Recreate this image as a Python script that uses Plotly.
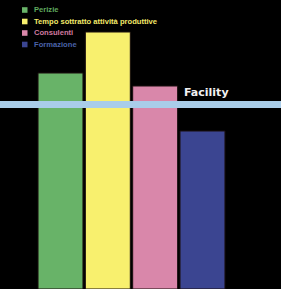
import plotly.graph_objects as go

categories = ["Perizie", "Tempo sottratto attività produttive", "Consulenti", "Formazione"]
values = [216, 257, 203, 158]
colors = ["#68b368", "#f8f06e", "#d987aa", "#3b4591"]
text_colors = ["#5fa95f", "#f3ea6a", "#d07aa0", "#4a62a8"]
facility_level = 184.5
facility_label = "Facility"

W, H = 281, 289
fig = go.Figure()
xs = list(range(len(categories)))
fig.add_trace(go.Bar(
    x=xs, y=values, width=0.95,
    marker=dict(color=colors, line=dict(color="#1a0f0f", width=1)),
    showlegend=False, hoverinfo="skip",
))

shapes = []
annotations = []
shapes.append(dict(type="line", xref="paper", x0=0, x1=1, yref="y",
                   y0=facility_level, y1=facility_level,
                   line=dict(color="#a9cde9", width=7), layer="above"))
annotations.append(dict(x=3.08, y=facility_level + 12, xref="x", yref="y",
                        text="<b>" + facility_label + "</b>", showarrow=False,
                        font=dict(family="DejaVu Sans", size=11, color="#f2f2f2"),
                        xanchor="center", yanchor="middle"))
row_y = [10, 21.5, 33, 44.5]
for i, (name, c, tc) in enumerate(zip(categories, colors, text_colors)):
    yc = 1 - row_y[i] / H
    shapes.append(dict(type="rect", xref="paper", yref="paper",
                       x0=22 / W, x1=27.5 / W, y0=yc - 2.8 / H, y1=yc + 2.8 / H,
                       fillcolor=c, line=dict(width=0)))
    annotations.append(dict(x=32 / W, y=yc, xref="paper", yref="paper",
                            text="<b>" + name + "</b>", showarrow=False,
                            font=dict(family="Liberation Sans", size=7.6, color=tc),
                            xanchor="left", yanchor="middle"))

spacing = 47.33
c0 = 60.5
fig.update_layout(
    width=W, height=H,
    margin=dict(l=0, r=0, t=0, b=0),
    paper_bgcolor="black", plot_bgcolor="black",
    xaxis=dict(range=[-c0 / spacing, (W - c0) / spacing], visible=False, fixedrange=True),
    yaxis=dict(range=[0, H], visible=False, fixedrange=True),
    shapes=shapes, annotations=annotations,
    bargap=0.05,
)
fig.write_html("out.html", config={"displayModeBar": False},
               post_script="document.body.style.margin='0';document.body.style.background='black';")
